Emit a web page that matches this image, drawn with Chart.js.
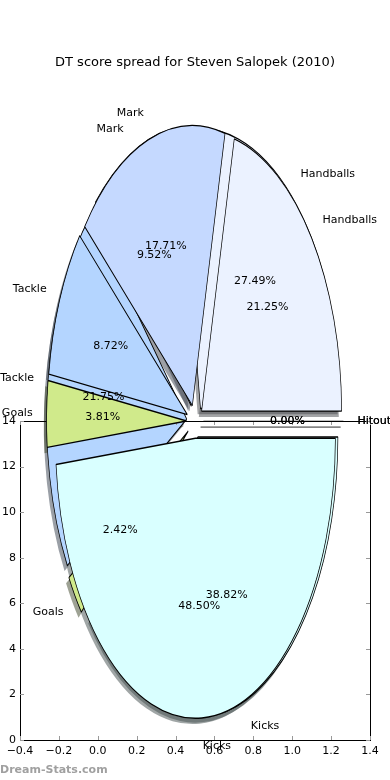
<!DOCTYPE html>
<html lang="en">
<head>
<meta charset="UTF-8">
<title>DT score spread for Steven Salopek (2010)</title>
<script src="https://cdn.jsdelivr.net/npm/chart.js@4.4.0/dist/chart.umd.min.js"></script>
<style>
    body {
        margin: 0;
        background: #fff;
    }
    .stage {
        position: relative;
        width: 390px;
        height: 780px;
    }
    .stage canvas {
        position: absolute;
        left: 0;
        top: 0;
    }
</style>
</head>
<body>
<div class="stage">
    <canvas id="pieA" width="390" height="780"></canvas>
    <canvas id="axesChart" width="390" height="780"></canvas>
    <canvas id="pieB" width="390" height="780"></canvas>
</div>

<script>
    // slices in matplotlib order (counter-clockwise from 3 o'clock)
    const categories = ['Handballs', 'Mark', 'Tackle', 'Goals', 'Kicks', 'Hitout'];
    const sliceColours = ['#ebf2ff', '#c5d9ff', '#b4d5ff', '#d0ea8b', '#d9ffff', '#ffffff'];
    // share of DT score, percent (two pies drawn on top of each other)
    const spreadA = [27.49, 9.52, 21.75, 2.42, 38.82, 0.00];
    const spreadB = [21.25, 17.71, 8.72, 3.81, 48.50, 0.00];
    // the stray axes under the pies
    const xTicks = [-0.4, -0.2, 0.0, 0.2, 0.4, 0.6, 0.8, 1.0, 1.2, 1.4];
    const yTicks = [0, 2, 4, 6, 8, 10, 12, 14];

    const FONT = '"DejaVu Sans", sans-serif';
    const RX = 140;              // pie radius across
    const RY = 280;              // pie radius down (axes are not square)
    const SQ = RY / RX;
    const EXPLODE = 0.06 * RX;   // every wedge pulled out a little
    const SHADOW = 0.02 * RX;

    let chartA = null, chartB = null;

    // Chart.js draws clockwise, so feed the slices in reverse
    const rev = arr => arr.slice().reverse();

    function shadowColour(hex) {
        const n = parseInt(hex.slice(1), 16);
        const r = (n >> 16) & 255, g = (n >> 8) & 255, b = n & 255;
        return `rgba(${Math.round(r * 0.3)},${Math.round(g * 0.3)},${Math.round(b * 0.3)},0.5)`;
    }

    function drawWedge(ctx, a, shadow) {
        const mid = (a.startAngle + a.endAngle) / 2;
        ctx.save();
        ctx.translate(Math.cos(mid) * EXPLODE, Math.sin(mid) * EXPLODE);
        if (shadow) ctx.translate(-SHADOW, SHADOW);
        if (a.circumference === 0) {
            // a zero share still leaves a radius line
            ctx.beginPath();
            ctx.moveTo(a.x, a.y);
            ctx.lineTo(a.x + Math.cos(a.startAngle) * a.outerRadius,
                       a.y + Math.sin(a.startAngle) * a.outerRadius);
            ctx.lineWidth = 0.6;
            ctx.strokeStyle = shadow ? 'rgba(60,60,60,0.5)' : '#000';
            ctx.stroke();
        } else if (shadow) {
            const opts = a.options;
            a.options = {...opts, backgroundColor: shadowColour(opts.backgroundColor), borderWidth: 0};
            a.draw(ctx);
            a.options = opts;
        } else {
            a.draw(ctx);
        }
        ctx.restore();
    }

    function withEllipse(ctx, arcs, fn) {
        const cx = arcs[0].x, cy = arcs[0].y;
        ctx.save();
        ctx.translate(cx, cy);
        ctx.scale(1, SQ);
        ctx.translate(-cx, -cy);
        fn();
        ctx.restore();
    }

    function drawLabels(ctx, chart) {
        const arcs = chart.getDatasetMeta(0).data;
        const values = chart.data.datasets[0].data;
        const labels = chart.data.labels;
        ctx.save();
        ctx.font = '11px ' + FONT;
        ctx.fillStyle = '#000';
        ctx.textBaseline = 'middle';
        arcs.forEach((a, i) => {
            const mid = (a.startAngle + a.endAngle) / 2;
            const c = Math.cos(mid), s = Math.sin(mid);
            const rl = EXPLODE + 1.1 * RX;
            ctx.textAlign = c > 0 ? 'left' : 'right';
            ctx.fillText(labels[i], a.x + c * rl, a.y + s * rl * SQ);
            const rp = EXPLODE + 0.6 * RX;
            ctx.textAlign = 'center';
            ctx.fillText(values[i].toFixed(2) + '%', a.x + c * rp, a.y + s * rp * SQ);
        });
        ctx.restore();
    }

    // back pie: all shadows first (both pies), then its own wedges
    const backPie = {
        id: 'backPie',
        beforeDatasetsDraw(chart) {
            const ctx = chart.ctx;
            const arcs = chart.getDatasetMeta(0).data;
            const front = chartB ? chartB.getDatasetMeta(0).data : [];
            withEllipse(ctx, arcs, () => {
                arcs.forEach(a => drawWedge(ctx, a, true));
                front.forEach(a => drawWedge(ctx, a, true));
                arcs.forEach(a => drawWedge(ctx, a, false));
            });
            return false;
        }
    };

    // front pie: its wedges, then every text of both pies on top
    const frontPie = {
        id: 'frontPie',
        beforeDatasetsDraw(chart) {
            const ctx = chart.ctx;
            const arcs = chart.getDatasetMeta(0).data;
            withEllipse(ctx, arcs, () => arcs.forEach(a => drawWedge(ctx, a, false)));
            return false;
        },
        afterDraw(chart) {
            if (chartA) drawLabels(chart.ctx, chartA);
            drawLabels(chart.ctx, chart);
        }
    };

    function pieConfig(values, padding, title, plugin) {
        return {
            type: 'pie',
            data: {
                labels: rev(categories),
                datasets: [{
                    data: rev(values),
                    backgroundColor: rev(sliceColours),
                    borderColor: '#000',
                    borderWidth: 0.7,
                    radius: RX
                }]
            },
            options: {
                responsive: false,
                animation: false,
                rotation: 90,
                layout: { padding: padding },
                plugins: {
                    legend: { display: false },
                    tooltip: { enabled: false },
                    title: {
                        display: !!title,
                        text: title,
                        color: '#000',
                        padding: 0,
                        font: { family: FONT, size: 13, weight: 'normal' }
                    }
                }
            },
            plugins: [plugin]
        };
    }

    // axes frame with inward ticks on all four sides
    const axesFrame = {
        id: 'axesFrame',
        afterDraw(chart) {
            const ctx = chart.ctx;
            const {left, right, top, bottom} = chart.chartArea;
            const xs = chart.scales.x, ys = chart.scales.y;
            ctx.save();
            ctx.strokeStyle = '#000';
            ctx.lineWidth = 1;
            ctx.strokeRect(Math.round(left) + 0.5, Math.round(top) + 0.5,
                           Math.round(right - left), Math.round(bottom - top));
            ctx.strokeStyle = '#999';
            ctx.beginPath();
            xTicks.forEach(v => {
                const px = Math.round(xs.getPixelForValue(v)) + 0.5;
                ctx.moveTo(px, bottom); ctx.lineTo(px, bottom - 4);
                ctx.moveTo(px, top); ctx.lineTo(px, top + 4);
            });
            yTicks.forEach(v => {
                const py = Math.round(ys.getPixelForValue(v)) + 0.5;
                ctx.moveTo(left, py); ctx.lineTo(left + 4, py);
                ctx.moveTo(right, py); ctx.lineTo(right - 4, py);
            });
            ctx.stroke();
            // watermark
            ctx.font = 'bold 11px ' + FONT;
            ctx.fillStyle = '#a0a0a0';
            ctx.textAlign = 'left';
            ctx.textBaseline = 'middle';
            ctx.fillText('Dream-Stats.com', 0, 770);
            ctx.restore();
        }
    };

    const tickFont = { family: FONT, size: 11 };

    chartA = new Chart(document.getElementById('pieA'),
        pieConfig(spreadA, { top: 55, bottom: 8, left: 0, right: 0 },
                  'DT score spread for Steven Salopek (2010)', backPie));

    new Chart(document.getElementById('axesChart'), {
        type: 'scatter',
        data: { datasets: [{ data: [] }] },
        options: {
            responsive: false,
            animation: false,
            layout: { padding: { top: 421, right: 20, bottom: 0, left: 0 } },
            plugins: {
                legend: { display: false },
                tooltip: { enabled: false }
            },
            scales: {
                x: {
                    type: 'linear',
                    min: -0.4,
                    max: 1.4,
                    afterBuildTicks: s => { s.ticks = xTicks.map(v => ({ value: v })); },
                    afterFit: s => { s.height = 40; },
                    grid: { display: false, drawTicks: false },
                    border: { display: false },
                    ticks: {
                        font: tickFont,
                        color: '#000',
                        padding: 5,
                        maxRotation: 0,
                        autoSkip: false,
                        callback: v => (v < 0 ? '\u2212' : '') + Math.abs(v).toFixed(1)
                    }
                },
                y: {
                    type: 'linear',
                    min: 0,
                    max: 14,
                    afterBuildTicks: s => { s.ticks = yTicks.map(v => ({ value: v })); },
                    afterFit: s => { s.width = 20; },
                    grid: { display: false, drawTicks: false },
                    border: { display: false },
                    ticks: {
                        font: tickFont,
                        color: '#000',
                        padding: 4,
                        autoSkip: false,
                        callback: v => String(v)
                    }
                }
            }
        },
        plugins: [axesFrame]
    });

    chartB = new Chart(document.getElementById('pieB'),
        pieConfig(spreadB, { top: 63, bottom: 0, left: 0, right: 0 }, '', frontPie));

    // redraw now that both pies know each other
    chartA.draw();
    chartB.draw();
</script>
</body>
</html>
